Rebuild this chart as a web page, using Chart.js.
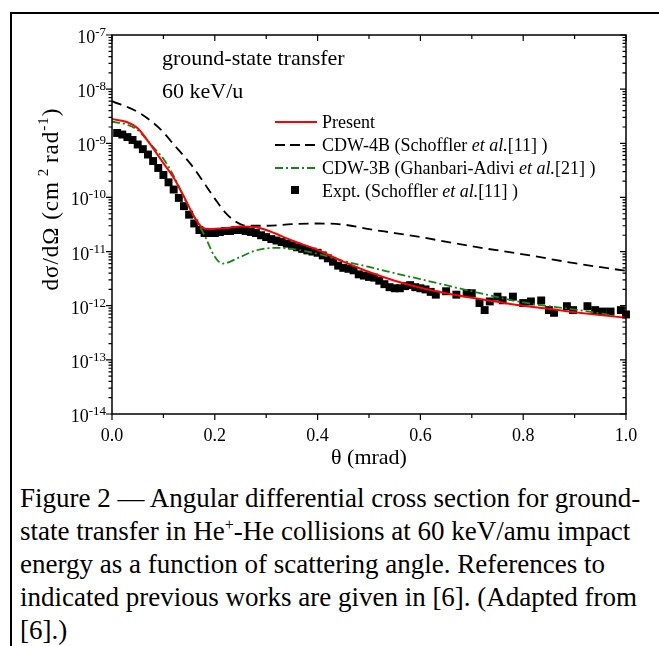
<!DOCTYPE html>
<html>
<head>
<meta charset="utf-8">
<script src="https://cdn.jsdelivr.net/npm/chart.js@4.4.1/dist/chart.umd.min.js"></script>
<style>
  body { margin: 0; background: #fff; overflow: hidden; }
  #frame { position: absolute; left: 10px; top: 12px; width: 700px; height: 700px;
           border-left: 2px solid #000; border-top: 2px solid #000; }
  #wrap { position: absolute; left: 0; top: 0; width: 659px; height: 480px; }
  #caption { position: absolute; left: 20px; top: 482px; white-space: nowrap;
             font-family: "Liberation Serif", "Times New Roman", serif;
             font-size: 27px; line-height: 33px; color: #000; }
  #caption sup { font-size: 16px; vertical-align: 10px; line-height: 0; }
</style>
</head>
<body>
<div id="frame"></div>
<div id="wrap"><canvas id="adcs"></canvas></div>
<div id="caption">Figure 2 — Angular differential cross section for ground-<br>state transfer in He<sup>+</sup>-He collisions at 60 keV/amu impact<br>energy as a function of scattering angle. References to<br>indicated previous works are given in [6]. (Adapted from<br>[6].)</div>
<script>
// theta in mrad, cross sections in cm^2 rad^-1
const presentTheta = [0, 0.03, 0.05, 0.07, 0.1, 0.12, 0.14, 0.16, 0.175, 0.19, 0.22, 0.25, 0.28, 0.3, 0.35, 0.4, 0.45, 0.5, 0.55, 0.6, 0.65, 0.7, 0.75, 0.8, 0.85, 0.9, 0.95, 1.0];
const present = [2.8e-9, 2.45e-9, 1.9e-9, 1.1e-9, 4.3e-10, 2.3e-10, 1.03e-10, 4.4e-11, 2.8e-11, 2.6e-11, 2.7e-11, 2.9e-11, 2.8e-11, 2.5e-11, 1.6e-11, 1.07e-11, 6.5e-12, 4.2e-12, 2.9e-12, 2.15e-12, 1.7e-12, 1.4e-12, 1.18e-12, 1.0e-12, 8.8e-13, 7.6e-13, 6.7e-13, 6.0e-13];

const cdw4bTheta = [0, 0.05, 0.08, 0.1, 0.12, 0.14, 0.16, 0.18, 0.2, 0.22, 0.24, 0.26, 0.3, 0.35, 0.4, 0.45, 0.5, 0.55, 0.6, 0.7, 0.8, 0.9, 1.0];
const cdw4b = [6.0e-9, 3.8e-9, 2.4e-9, 1.6e-9, 9.5e-10, 5.8e-10, 3.4e-10, 1.8e-10, 9.5e-11, 5.3e-11, 3.6e-11, 3.0e-11, 3.0e-11, 3.2e-11, 3.3e-11, 3.15e-11, 2.6e-11, 2.2e-11, 1.85e-11, 1.25e-11, 8.9e-12, 6.1e-12, 4.4e-12];

const cdw3bTheta = [0, 0.03, 0.05, 0.08, 0.1, 0.12, 0.14, 0.16, 0.18, 0.2, 0.215, 0.25, 0.28, 0.32, 0.35, 0.38, 0.41, 0.45, 0.5, 0.57, 0.6, 0.7, 0.8, 0.9, 0.98];
const cdw3b = [2.5e-9, 2.2e-9, 1.75e-9, 8.5e-10, 5.2e-10, 2.5e-10, 1.0e-10, 4.3e-11, 2.0e-11, 8.0e-12, 6.0e-12, 8.0e-12, 1.05e-11, 1.17e-11, 1.12e-11, 1.0e-11, 8.6e-12, 6.7e-12, 5.2e-12, 3.6e-12, 3.1e-12, 1.85e-12, 1.15e-12, 8.5e-13, 6.5e-13];

const exptTheta = [0.01, 0.02, 0.03, 0.04, 0.05, 0.06, 0.07, 0.08, 0.09, 0.10, 0.11, 0.12, 0.13, 0.14, 0.15, 0.16, 0.17, 0.18, 0.19, 0.20,
  0.21, 0.22, 0.23, 0.24, 0.25, 0.26, 0.27, 0.28, 0.29, 0.30, 0.31, 0.32, 0.33, 0.34, 0.35, 0.36, 0.37, 0.38, 0.39, 0.40,
  0.41, 0.42, 0.43, 0.44, 0.45, 0.46, 0.47, 0.48, 0.49, 0.50, 0.51, 0.52, 0.53, 0.54, 0.55, 0.56, 0.57, 0.58, 0.59, 0.60,
  0.61, 0.62, 0.63, 0.65, 0.67, 0.69, 0.70, 0.715, 0.725, 0.735, 0.75, 0.76, 0.78, 0.80, 0.815, 0.835, 0.85, 0.86, 0.885, 0.897,
  0.925, 0.94, 0.955, 0.97, 0.99, 1.0];
const expt = [1.55e-9, 1.45e-9, 1.3e-9, 1.15e-9, 9.5e-10, 7.8e-10, 6.2e-10, 4.7e-10, 3.5e-10, 2.6e-10, 1.9e-10, 1.4e-10, 9.8e-11, 6.9e-11, 4.8e-11, 3.3e-11, 2.5e-11, 2.2e-11, 2.2e-11, 2.2e-11,
  2.3e-11, 2.4e-11, 2.4e-11, 2.5e-11, 2.5e-11, 2.4e-11, 2.3e-11, 2.2e-11, 2.0e-11, 1.85e-11, 1.7e-11, 1.6e-11, 1.5e-11, 1.4e-11, 1.3e-11, 1.2e-11, 1.12e-11, 1.05e-11, 1.0e-11, 9.5e-12,
  8.5e-12, 7.5e-12, 6.5e-12, 5.5e-12, 5.0e-12, 4.8e-12, 4.5e-12, 3.8e-12, 3.6e-12, 3.4e-12, 3.3e-12, 2.9e-12, 2.5e-12, 2.2e-12, 2.1e-12, 2.1e-12, 2.3e-12, 2.4e-12, 2.2e-12, 2.1e-12,
  2.0e-12, 1.8e-12, 1.6e-12, 1.85e-12, 1.6e-12, 1.7e-12, 1.7e-12, 1.12e-12, 8.3e-13, 1.2e-12, 1.47e-12, 1.26e-12, 1.47e-12, 1.12e-12, 1.2e-12, 1.25e-12, 8.3e-13, 7.4e-13, 9.8e-13, 8.3e-13,
  9.8e-13, 8.3e-13, 7.8e-13, 7.8e-13, 8.3e-13, 6.9e-13];

const xMajorTicks = [0, 0.2, 0.4, 0.6, 0.8, 1.0];
const xMinorTicks = [0.1, 0.3, 0.5, 0.7, 0.9];
const xTickLabels = ['0.0', '0.2', '0.4', '0.6', '0.8', '1.0'];
const yTickExponents = [-7, -8, -9, -10, -11, -12, -13, -14];

const SERIF = '"Liberation Serif", "Times New Roman", serif';

function pairs(xs, ys) {
  return xs.map((v, i) => ({ x: v, y: ys[i] }));
}

// draw a row of text pieces with different fonts / offsets
function drawRuns(ctx, x, y, runs) {
  let cx = x;
  for (const r of runs) {
    ctx.font = r.font;
    ctx.fillText(r.t, cx, y + (r.dy || 0));
    cx += ctx.measureText(r.t).width;
  }
  return cx - x;
}
function runsWidth(ctx, runs) {
  let w = 0;
  for (const r of runs) { ctx.font = r.font; w += ctx.measureText(r.t).width; }
  return w;
}

const axesPlugin = {
  id: 'axesFrame',
  afterDatasetsDraw(chart) {
    const { ctx, chartArea: a, scales: { x, y } } = chart;
    ctx.save();
    ctx.strokeStyle = '#000';
    ctx.fillStyle = '#000';
    ctx.lineWidth = 1.5;
    ctx.setLineDash([]);
    ctx.strokeRect(a.left, a.top, a.right - a.left, a.bottom - a.top);

    ctx.lineWidth = 1.2;
    ctx.beginPath();
    // x ticks: outward at bottom, inward at top
    const xt = (v, len) => {
      const px = x.getPixelForValue(v);
      ctx.moveTo(px, a.bottom); ctx.lineTo(px, a.bottom + len);
      ctx.moveTo(px, a.top); ctx.lineTo(px, a.top + len);
    };
    xMajorTicks.forEach(v => xt(v, 6));
    xMinorTicks.forEach(v => xt(v, 4));
    // y ticks: outward at left, inward at right
    const yt = (v, len) => {
      const py = y.getPixelForValue(v);
      ctx.moveTo(a.left, py); ctx.lineTo(a.left - len, py);
      ctx.moveTo(a.right, py); ctx.lineTo(a.right - len, py);
    };
    yTickExponents.forEach(e => {
      yt(Math.pow(10, e), 6);
      if (e < -7) {
        for (let k = 2; k <= 9; k++) yt(k * Math.pow(10, e), 3.5);
      }
    });
    ctx.stroke();

    // x tick labels
    ctx.font = '18px ' + SERIF;
    ctx.textAlign = 'center';
    ctx.textBaseline = 'alphabetic';
    xMajorTicks.forEach((v, i) => {
      ctx.fillText(xTickLabels[i], x.getPixelForValue(v), a.bottom + 27);
    });

    // y tick labels 10^n
    ctx.textAlign = 'left';
    yTickExponents.forEach(e => {
      const py = y.getPixelForValue(Math.pow(10, e));
      const runs = [
        { t: '10', font: '18px ' + SERIF },
        { t: '-' + Math.abs(e), font: '13px ' + SERIF, dy: -7 }
      ];
      const w = runsWidth(ctx, runs);
      drawRuns(ctx, a.left - 6 - w, py + 8, runs);
    });

    // axis titles
    ctx.font = '22px ' + SERIF;
    ctx.textAlign = 'center';
    ctx.fillText('θ (mrad)', (a.left + a.right) / 2, a.bottom + 50);

    ctx.textAlign = 'left';
    ctx.letterSpacing = '1px';
    const ytitle = [
      { t: 'dσ/dΩ (cm', font: '23px ' + SERIF },
      { t: ' 2 ', font: '15px ' + SERIF, dy: -10 },
      { t: 'rad', font: '23px ' + SERIF },
      { t: '-1', font: '15px ' + SERIF, dy: -10 },
      { t: ')', font: '23px ' + SERIF }
    ];
    const tw = runsWidth(ctx, ytitle);
    ctx.save();
    ctx.translate(58, 199);
    ctx.rotate(-Math.PI / 2);
    drawRuns(ctx, -tw / 2, 0, ytitle);
    ctx.restore();
    ctx.letterSpacing = '0px';

    // annotations
    ctx.font = '22px ' + SERIF;
    ctx.fillText('ground-state transfer', 162, 65);
    ctx.fillText('60 keV/u', 162, 98);

    // legend
    const lx0 = 275, lx1 = 317, tx = 322;
    const f = '18px ' + SERIF, fi = 'italic 18px ' + SERIF;
    ctx.lineWidth = 2;
    ctx.strokeStyle = '#ff0000';
    ctx.beginPath(); ctx.moveTo(lx0, 122); ctx.lineTo(lx1, 122); ctx.stroke();
    ctx.lineWidth = 1.8;
    ctx.strokeStyle = '#000';
    ctx.setLineDash([10, 5]);
    ctx.beginPath(); ctx.moveTo(lx0, 145); ctx.lineTo(lx1, 145); ctx.stroke();
    ctx.strokeStyle = '#118811';
    ctx.setLineDash([8, 3, 2, 3]);
    ctx.beginPath(); ctx.moveTo(lx0, 168); ctx.lineTo(lx1, 168); ctx.stroke();
    ctx.setLineDash([]);
    ctx.fillRect(295 - 4, 190 - 4, 8, 8);

    drawRuns(ctx, tx, 128, [{ t: 'Present', font: f }]);
    drawRuns(ctx, tx, 151, [{ t: 'CDW-4B (Schoffler ', font: f }, { t: 'et al.', font: fi }, { t: '[11] )', font: f }]);
    drawRuns(ctx, tx, 174, [{ t: 'CDW-3B (Ghanbari-Adivi ', font: f }, { t: 'et al.', font: fi }, { t: '[21] )', font: f }]);
    drawRuns(ctx, tx, 197, [{ t: 'Expt. (Schoffler ', font: f }, { t: 'et al.', font: fi }, { t: '[11] )', font: f }]);
    ctx.restore();
  }
};

new Chart(document.getElementById('adcs'), {
  type: 'line',
  data: {
    datasets: [
      {
        label: 'Present',
        data: pairs(presentTheta, present),
        borderColor: '#ff0000',
        borderWidth: 2,
        pointRadius: 0,
        cubicInterpolationMode: 'monotone',
        order: 0
      },
      {
        label: 'CDW-3B',
        data: pairs(cdw3bTheta, cdw3b),
        borderColor: '#118811',
        borderWidth: 1.8,
        borderDash: [8, 3, 2, 3],
        pointRadius: 0,
        cubicInterpolationMode: 'monotone',
        order: 1
      },
      {
        label: 'CDW-4B',
        data: pairs(cdw4bTheta, cdw4b),
        borderColor: '#000',
        borderWidth: 1.8,
        borderDash: [10, 6],
        pointRadius: 0,
        cubicInterpolationMode: 'monotone',
        order: 2
      },
      {
        label: 'Expt.',
        data: pairs(exptTheta, expt),
        showLine: false,
        pointStyle: 'rect',
        pointRadius: 5.6,
        pointBackgroundColor: '#000',
        pointBorderWidth: 0,
        clip: 8,
        order: 3
      }
    ]
  },
  options: {
    responsive: true,
    maintainAspectRatio: false,
    animation: false,
    layout: { padding: { left: 112, top: 35, right: 33, bottom: 66 } },
    plugins: { legend: { display: false }, tooltip: { enabled: false } },
    scales: {
      x: { type: 'linear', min: 0, max: 1, display: false },
      y: { type: 'logarithmic', min: 1e-14, max: 1e-7, display: false }
    }
  },
  plugins: [axesPlugin]
});
</script>
</body>
</html>
